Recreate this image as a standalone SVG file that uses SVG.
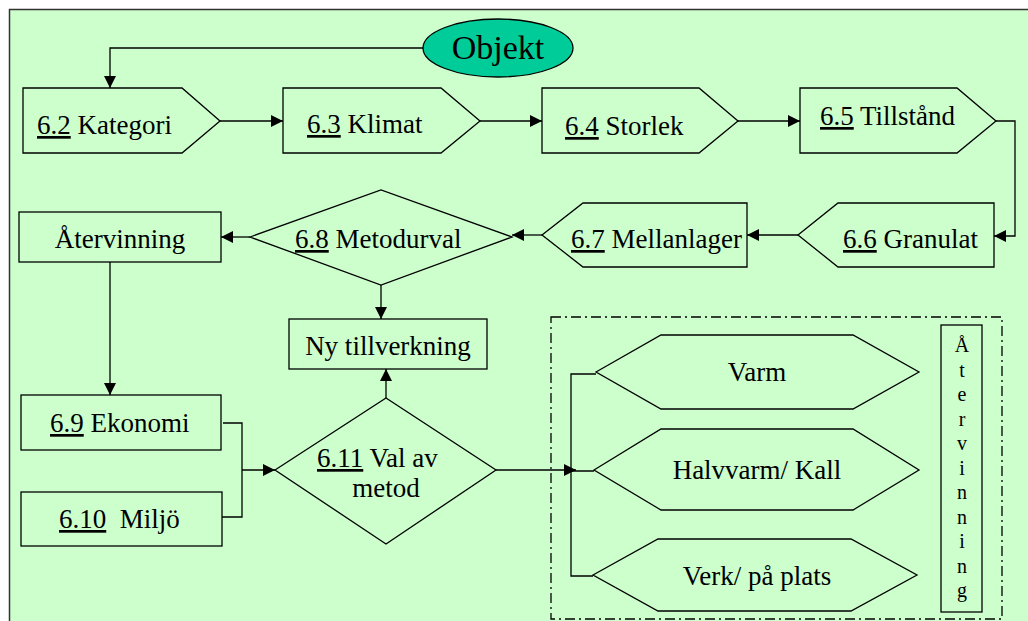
<svg xmlns="http://www.w3.org/2000/svg" width="1028" height="621" viewBox="0 0 1028 621" font-family="'Liberation Serif', 'Times New Roman', 'DejaVu Serif', serif">
<defs>
<marker id="ah" viewBox="0 0 10 10" refX="10" refY="5" markerWidth="12" markerHeight="12" markerUnits="userSpaceOnUse" orient="auto"><path d="M0,0 L10,5 L0,10 z" fill="#000"/></marker>
</defs>
<style>
.s{fill:#CCFFCC;stroke:#000;stroke-width:1.3}
.t{font-size:27px;fill:#000}
.u{text-decoration:underline}
.c{fill:none;stroke:#000;stroke-width:1.3}
.a{marker-end:url(#ah)}
</style>
<rect x="0" y="0" width="1028" height="621" fill="#fff"/>
<rect x="9.5" y="9.5" width="1030" height="630" fill="#CCFFCC" stroke="#333" stroke-width="1.5"/>
<g id="connectors">
<path class="c a" d="M423,48 H110 V88"/>
<path class="c a" d="M220,121 H283"/>
<path class="c a" d="M480,121 H542"/>
<path class="c a" d="M738,121 H800"/>
<path class="c a" d="M996,121 H1015 V236 H994"/>
<path class="c a" d="M798,235 H747"/>
<path class="c a" d="M542,235 H512"/>
<path class="c a" d="M250,237 H221"/>
<path class="c a" d="M381,285 V319"/>
<path class="c a" d="M110,262 V395"/>
<path class="c" d="M223,423 H242 V517 H222"/>
<path class="c a" d="M242,470 H275"/>
<path class="c a" d="M386,398 V369"/>
<path class="c a" d="M496,470 H576"/>
<path class="c" d="M596,374 H571 V576 H593 M571,471 H594"/>
</g>
<g id="objekt"><ellipse cx="498" cy="48" rx="75" ry="29" fill="#00CC99" stroke="#000" stroke-width="1.3"/><text class="t" x="498" y="59" text-anchor="middle" style="font-size:34px">Objekt</text></g>
<g id="n62"><polygon class="s" points="23,88 182,88 220,121 182,153 23,153"/><text class="t" x="37" y="134"><tspan class="u">6.2</tspan> Kategori</text></g>
<g id="n63"><polygon class="s" points="283,88 441,88 480,121 441,153 283,153"/><text class="t" x="307" y="133"><tspan class="u">6.3</tspan> Klimat</text></g>
<g id="n64"><polygon class="s" points="542,88 699,88 738,121 699,153 542,153"/><text class="t" x="565" y="135"><tspan class="u">6.4</tspan> Storlek</text></g>
<g id="n65"><polygon class="s" points="800,88 957,88 996,121 957,153 800,153"/><text class="t" x="820" y="125"><tspan class="u">6.5</tspan> Tillstånd</text></g>
<g id="n66"><polygon class="s" points="798,235 838,203 994,203 994,267 838,267"/><text class="t" x="843" y="248"><tspan class="u">6.6</tspan> Granulat</text></g>
<g id="n67"><polygon class="s" points="542,235 583,203 747,203 747,267 583,267"/><text class="t" x="571" y="248"><tspan class="u">6.7</tspan> Mellanlager</text></g>
<g id="n68"><polygon class="s" points="250,237 381,190 512,237 381,285"/><text class="t" x="295" y="248"><tspan class="u">6.8</tspan> Metodurval</text></g>
<g id="atervinning"><rect class="s" x="19" y="212" width="202" height="50"/><text class="t" x="120" y="248" text-anchor="middle">Återvinning</text></g>
<g id="ny"><rect class="s" x="289" y="319" width="198" height="50"/><text class="t" x="388" y="355" text-anchor="middle">Ny tillverkning</text></g>
<g id="n69"><rect class="s" x="21" y="395" width="200" height="55"/><text class="t" x="50" y="432"><tspan class="u">6.9</tspan> Ekonomi</text></g>
<g id="n610"><rect class="s" x="21" y="492" width="201" height="54"/><text class="t" x="59" y="528" xml:space="preserve"><tspan class="u">6.10</tspan>  Miljö</text></g>
<g id="n611"><polygon class="s" points="275,470 386,398 496,470 386,544"/><text class="t" x="317" y="467"><tspan class="u">6.11</tspan> Val av</text><text class="t" x="386" y="497" text-anchor="middle">metod</text></g>
<g id="group"><rect x="551" y="317" width="451" height="302" fill="none" stroke="#000" stroke-width="1.3" stroke-dasharray="10,4,2,4"/></g>
<g id="varm"><polygon class="s" points="596,372 661,335 853,335 919,372 853,409 661,409"/><text class="t" x="757" y="381" text-anchor="middle">Varm</text></g>
<g id="halvvarm"><polygon class="s" points="594,470 661,429 853,429 919,470 853,510 661,510"/><text class="t" x="757" y="479" text-anchor="middle">Halvvarm/ Kall</text></g>
<g id="verk"><polygon class="s" points="593,575 658,539 851,539 917,575 851,611 658,611"/><text class="t" x="757" y="585" text-anchor="middle">Verk/ på plats</text></g>
<g id="atervinning2"><rect class="s" x="941" y="325" width="41" height="287"/>
<text class="t" x="962" text-anchor="middle" style="font-size:20px"><tspan x="962" y="352">Å</tspan><tspan x="962" y="376.5">t</tspan><tspan x="962" y="401">e</tspan><tspan x="962" y="425.5">r</tspan><tspan x="962" y="450">v</tspan><tspan x="962" y="474.5">i</tspan><tspan x="962" y="499">n</tspan><tspan x="962" y="523.5">n</tspan><tspan x="962" y="548">i</tspan><tspan x="962" y="572.5">n</tspan><tspan x="962" y="597">g</tspan></text></g>
</svg>
